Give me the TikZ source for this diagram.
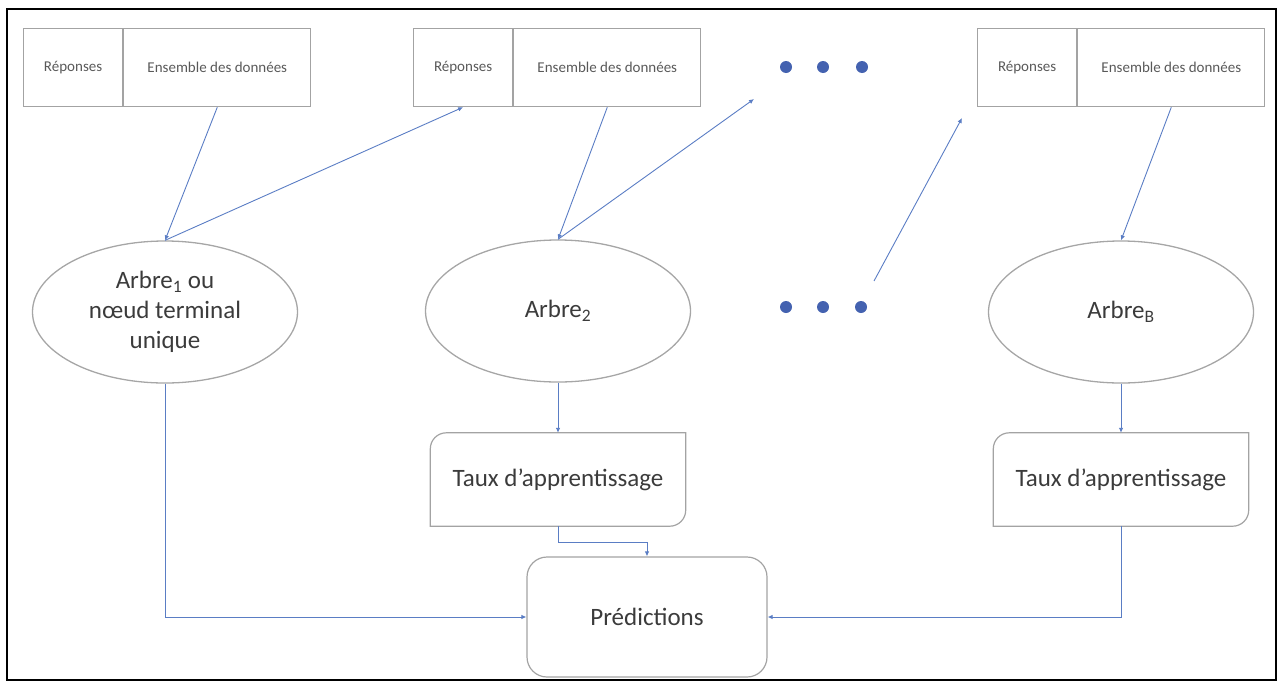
\documentclass[tikz,border=0pt]{standalone}
\usepackage{fontspec}
\setmainfont{Carlito}
\usetikzlibrary{arrows.meta,shapes.geometric}

\definecolor{boxgray}{HTML}{A3A3A3}
\definecolor{ellgray}{HTML}{A6A6A6}
\definecolor{linkblue}{HTML}{5A7DC4}
\definecolor{dotblue}{HTML}{4462B0}
\definecolor{textdark}{HTML}{3B3B3B}
\definecolor{textlight}{HTML}{595959}

\begin{document}
\begin{tikzpicture}[x=1pt,y=-1pt,
  cell/.style={draw=boxgray, line width=1.2pt, minimum height=78pt, inner sep=0pt,
    anchor=north west, font=\fontsize{15}{18}\selectfont, text=textlight},
  respcell/.style={cell, minimum width=99pt},
  datacell/.style={cell, minimum width=187pt},
  tree/.style={ellipse, draw=ellgray, line width=1.3pt, minimum width=265pt,
    minimum height=142pt, inner sep=0pt, align=center,
    font=\fontsize{25}{30}\selectfont, text=textdark},
  rate/.style={minimum width=255pt, minimum height=93pt, inner sep=0pt,
    font=\fontsize{25}{30}\selectfont, text=textdark},
  ratebox/.style={draw=boxgray, line width=1.2pt},
  predbox/.style={draw=boxgray, line width=1.2pt, rounded corners=20pt,
    minimum width=240pt, minimum height=120pt, inner sep=0pt,
    font=\fontsize{25}{30}\selectfont, text=textdark},
  link/.style={draw=linkblue, line width=0.9pt,
    -{Latex[length=5pt,width=4.5pt]}},
  dotmark/.style={circle, fill=dotblue, minimum size=12pt, inner sep=0pt}
]
\useasboundingbox (0,0) rectangle (1281,683);

% outer frame
\draw[line width=2pt] (7,9) rectangle (1276,680);

% response / data tables
\node[respcell] (r1) at (23,28) {Réponses};
\node[datacell] (d1) at (r1.north east) {Ensemble des données};
\node[respcell] (r2) at (413,28) {Réponses};
\node[datacell] (d2) at (r2.north east) {Ensemble des données};
\node[respcell] (r3) at (977,28) {Réponses};
\node[datacell] (d3) at (r3.north east) {Ensemble des données};

% ellipsis marks
\node[dotmark] (u1) at (786,67) {};
\node[dotmark] (u2) at (823,67) {};
\node[dotmark] (u3) at (862,67) {};
\node[dotmark] (m1) at (786,307) {};
\node[dotmark] (m2) at (823,307) {};
\node[dotmark] (m3) at (861,307) {};

% trees
\node[tree] (e1) at (165,312) {Arbre\textsubscript{1} ou\\nœud terminal\\unique};
\node[tree] (e2) at (558,311) {Arbre\textsubscript{2}};
\node[tree] (eB) at (1121,312) {Arbre\textsubscript{B}};

% learning-rate boxes (rounded top-left and bottom-right corners)
\node[rate] (t2) at (558,479.5) {Taux d’apprentissage};
\node[rate] (tB) at (1121,479.5) {Taux d’apprentissage};
\foreach \b in {t2,tB}{
  \draw[ratebox] (\b.south west) -- ([yshift=-16pt]\b.north west)
    arc[start angle=180,end angle=90,radius=16pt] -- (\b.north east)
    -- ([yshift=16pt]\b.south east)
    arc[start angle=0,end angle=-90,radius=16pt] -- cycle;
}

% predictions
\node[predbox] (pred) at (647,617) {Prédictions};

% free ends of the continuation arrows
\coordinate (gapA) at (754,99);
\coordinate (gapS) at (874,281);
\coordinate (gapB) at (962,118);

% connectors
\draw[link] (d1.south) -- (e1.north);
\draw[link] (e1.north) -- (r2.south);
\draw[link] (d2.south) -- (e2.north);
\draw[link] (e2.north) -- (gapA);
\draw[link] (gapS) -- (gapB);
\draw[link] (d3.south) -- (eB.north);
\draw[link] (e2.south) -- (t2.north);
\draw[link] (eB.south) -- (tB.north);
\draw[link] (t2.south) -- ++(0,16) -| (pred.north);
\draw[link] (e1.south) |- (pred.west);
\draw[link] (tB.south) |- (pred.east);
\end{tikzpicture}
\end{document}
